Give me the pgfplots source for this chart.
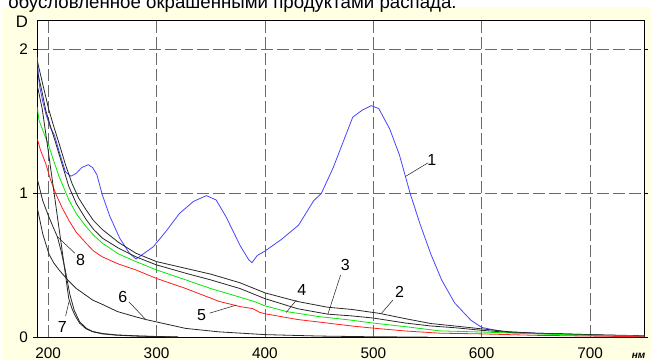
\documentclass[border=0pt]{standalone}
\usepackage{fontspec}
\setmainfont{Liberation Sans}
\usepackage{pgfplots}
\pgfplotsset{compat=1.18}
\definecolor{bgy}{RGB}{255,255,228}
\definecolor{c1}{RGB}{70,70,255}
\definecolor{c4}{RGB}{0,235,0}
\definecolor{c5}{RGB}{255,30,30}
\definecolor{cb}{RGB}{40,40,40}
\definecolor{gridc}{RGB}{105,105,105}
\begin{document}
\begin{tikzpicture}
\useasboundingbox (0,0) rectangle (489pt,270pt);
\fill[white] (0,0) rectangle (489pt,270pt);
\fill[bgy] (1.5pt,0) rectangle (488pt,264.75pt);
\node[anchor=base west, font=\fontsize{14}{16}\selectfont, inner sep=0] at (6pt,263.4pt) {обусловленное окрашенными продуктами распада.};
\begin{axis}[
  at={(27.98pt,16.88pt)}, anchor=south west,
  scale only axis, width=455.25pt, height=237.6pt,
  xmin=190, xmax=750, ymin=0, ymax=2.2,
  xtick={200,300,400,500,600,700}, ytick={0,1,2},
  grid=major,
  major grid style={gridc, line width=0.6pt, dash pattern=on 9pt off 3pt},
  axis line style={black, line width=0.7pt},
  axis background/.style={fill=white},
  tick label style={font=\fontsize{11.5}{13}\selectfont},
  /pgf/number format/assume math mode=true,
  x tick style={draw=none},
  y tick style={black, line width=0.6pt},
  tick align=outside, major tick length=3pt,
  xticklabel style={yshift=-1pt},
  yticklabel style={xshift=-0.5pt},
  clip=true,
]
% 1 blue
\addplot[c1, line width=0.6pt] coordinates {
(190,1.95)(191,1.82)(192,1.75)(195,1.64)(198,1.55)(202,1.46)(206,1.40)(211,1.27)(216,1.15)(221,1.12)(226,1.14)(231,1.18)(237,1.20)(241,1.18)(245,1.13)(250,0.99)(257,0.84)(266,0.69)(275,0.585)(281,0.545)(284,0.56)(297,0.63)(309,0.74)(321,0.86)(334,0.945)(346,0.985)(355,0.955)(364,0.84)(377,0.64)(385,0.54)(388,0.52)(393,0.57)(400,0.60)(415,0.68)(431,0.78)(445,0.95)(452,1.0)(463,1.18)(481,1.53)(490,1.58)(498,1.61)(505,1.59)(515,1.45)(524,1.27)(534,1.0)(543,0.79)(553,0.58)(563,0.40)(575,0.24)(590,0.12)(600,0.07)(620,0.04)(650,0.03)(700,0.02)(720,0.01)(750,0.008)};
% 2 upper black
\addplot[cb, line width=0.6pt] coordinates {
(190,1.92)(195,1.76)(200.7,1.58)(205,1.47)(210,1.35)(216,1.20)(222,1.07)(228,0.97)(235,0.887)(242,0.81)(250,0.75)(265,0.66)(281,0.585)(300,0.527)(327,0.48)(350,0.44)(377,0.38)(400,0.31)(430,0.25)(458,0.21)(480,0.195)(506,0.167)(530,0.13)(553,0.097)(575,0.08)(600,0.06)(625,0.04)(650,0.03)(700,0.02)(750,0.012)};
% 3 lower black
\addplot[cb, line width=0.6pt] coordinates {
(190,1.85)(194,1.72)(197.7,1.58)(202,1.47)(207,1.35)(213,1.20)(219,1.05)(226,0.93)(235,0.82)(242,0.75)(250,0.69)(265,0.62)(281,0.56)(300,0.504)(327,0.446)(350,0.40)(377,0.34)(400,0.27)(430,0.20)(458,0.162)(480,0.15)(500,0.135)(530,0.10)(553,0.08)(575,0.068)(600,0.05)(625,0.035)(650,0.028)(700,0.018)(750,0.01)};
% 4 green
\addplot[c4, line width=0.6pt] coordinates {
(190,1.60)(191.5,1.51)(196,1.42)(200.7,1.33)(205,1.23)(210,1.12)(215,1.03)(219,0.957)(226,0.86)(235,0.77)(242,0.71)(250,0.655)(265,0.58)(281,0.527)(300,0.469)(327,0.40)(350,0.34)(377,0.28)(390,0.25)(400,0.22)(420,0.18)(450,0.145)(480,0.12)(500,0.10)(530,0.075)(561,0.046)(600,0.038)(650,0.025)(700,0.015)(750,0.01)};
% 5 red
\addplot[c5, line width=0.6pt] coordinates {
(190,1.38)(193,1.30)(197.7,1.21)(202,1.10)(206.9,1.0)(213,0.90)(219,0.815)(226,0.73)(235,0.655)(242,0.60)(250,0.56)(265,0.51)(281,0.469)(300,0.41)(327,0.34)(358,0.25)(377,0.215)(389,0.20)(395,0.175)(400,0.165)(430,0.125)(458,0.10)(480,0.08)(500,0.065)(530,0.045)(561,0.03)(600,0.025)(650,0.015)(700,0.01)(750,0.005)};
% 6
\addplot[cb, line width=0.6pt] coordinates {
(190,0.90)(195,0.72)(200.7,0.58)(205,0.52)(210,0.47)(218,0.40)(226,0.34)(236.6,0.284)(241,0.26)(250,0.23)(264,0.18)(280,0.145)(290,0.125)(299.4,0.109)(327,0.063)(358,0.039)(400,0.02)(450,0.01)(500,0.005)(550,0.003)};
% 7
\addplot[cb, line width=0.6pt] coordinates {
(190,1.75)(194.6,1.585)(200,1.30)(205,1.03)(210,0.76)(215,0.49)(219,0.27)(222,0.20)(225,0.15)(229,0.10)(235,0.06)(241,0.04)(250,0.025)(263,0.016)(280,0.01)(300,0.006)(320,0.003)};
% 8
\addplot[cb, line width=0.6pt] coordinates {
(190,1.10)(195,0.95)(200,0.85)(205,0.76)(208.5,0.70)(212,0.60)(216,0.46)(220,0.30)(224,0.19)(229,0.11)(235,0.065)(241,0.042)(250,0.028)(263,0.018)(280,0.012)(300,0.007)(320,0.004)};
% labels
\draw[cb, line width=0.4pt] (axis cs:550.4,1.213) -- (axis cs:529.8,1.119);
\node[font=\fontsize{12}{14}\selectfont] at (axis cs:554,1.236) {1};
\draw[cb, line width=0.4pt] (axis cs:518.1,0.26) -- (axis cs:507.4,0.167);
\node[font=\fontsize{12}{14}\selectfont] at (axis cs:524.3,0.315) {2};
\draw[cb, line width=0.4pt] (axis cs:469.8,0.434) -- (axis cs:458.1,0.162);
\node[font=\fontsize{12}{14}\selectfont] at (axis cs:474.2,0.504) {3};
\draw[cb, line width=0.4pt] (axis cs:429,0.26) -- (axis cs:419.7,0.174);
\node[font=\fontsize{12}{14}\selectfont] at (axis cs:434,0.33) {4};
\draw[cb, line width=0.4pt] (axis cs:349,0.169) -- (axis cs:373.6,0.225);
\node[font=\fontsize{12}{14}\selectfont] at (axis cs:341.6,0.156) {5};
\draw[cb, line width=0.4pt] (axis cs:274.5,0.248) -- (axis cs:290,0.125);
\node[font=\fontsize{12}{14}\selectfont] at (axis cs:269,0.283) {6};
\draw[cb, line width=0.4pt] (axis cs:216.1,0.148) -- (axis cs:219.2,0.248);
\node[font=\fontsize{12}{14}\selectfont] at (axis cs:213.1,0.074) {7};
\draw[cb, line width=0.4pt] (axis cs:224.7,0.585) -- (axis cs:208.5,0.70);
\node[font=\fontsize{12}{14}\selectfont] at (axis cs:230,0.539) {8};
\end{axis}
\node[font=\fontsize{12.5}{14}\selectfont, inner sep=0pt] at (16.5pt,253.5pt) {D};
\node[font=\bfseries\itshape\fontsize{7.5}{9}\selectfont] at (479pt,3pt) {нм};
\end{tikzpicture}
\end{document}
